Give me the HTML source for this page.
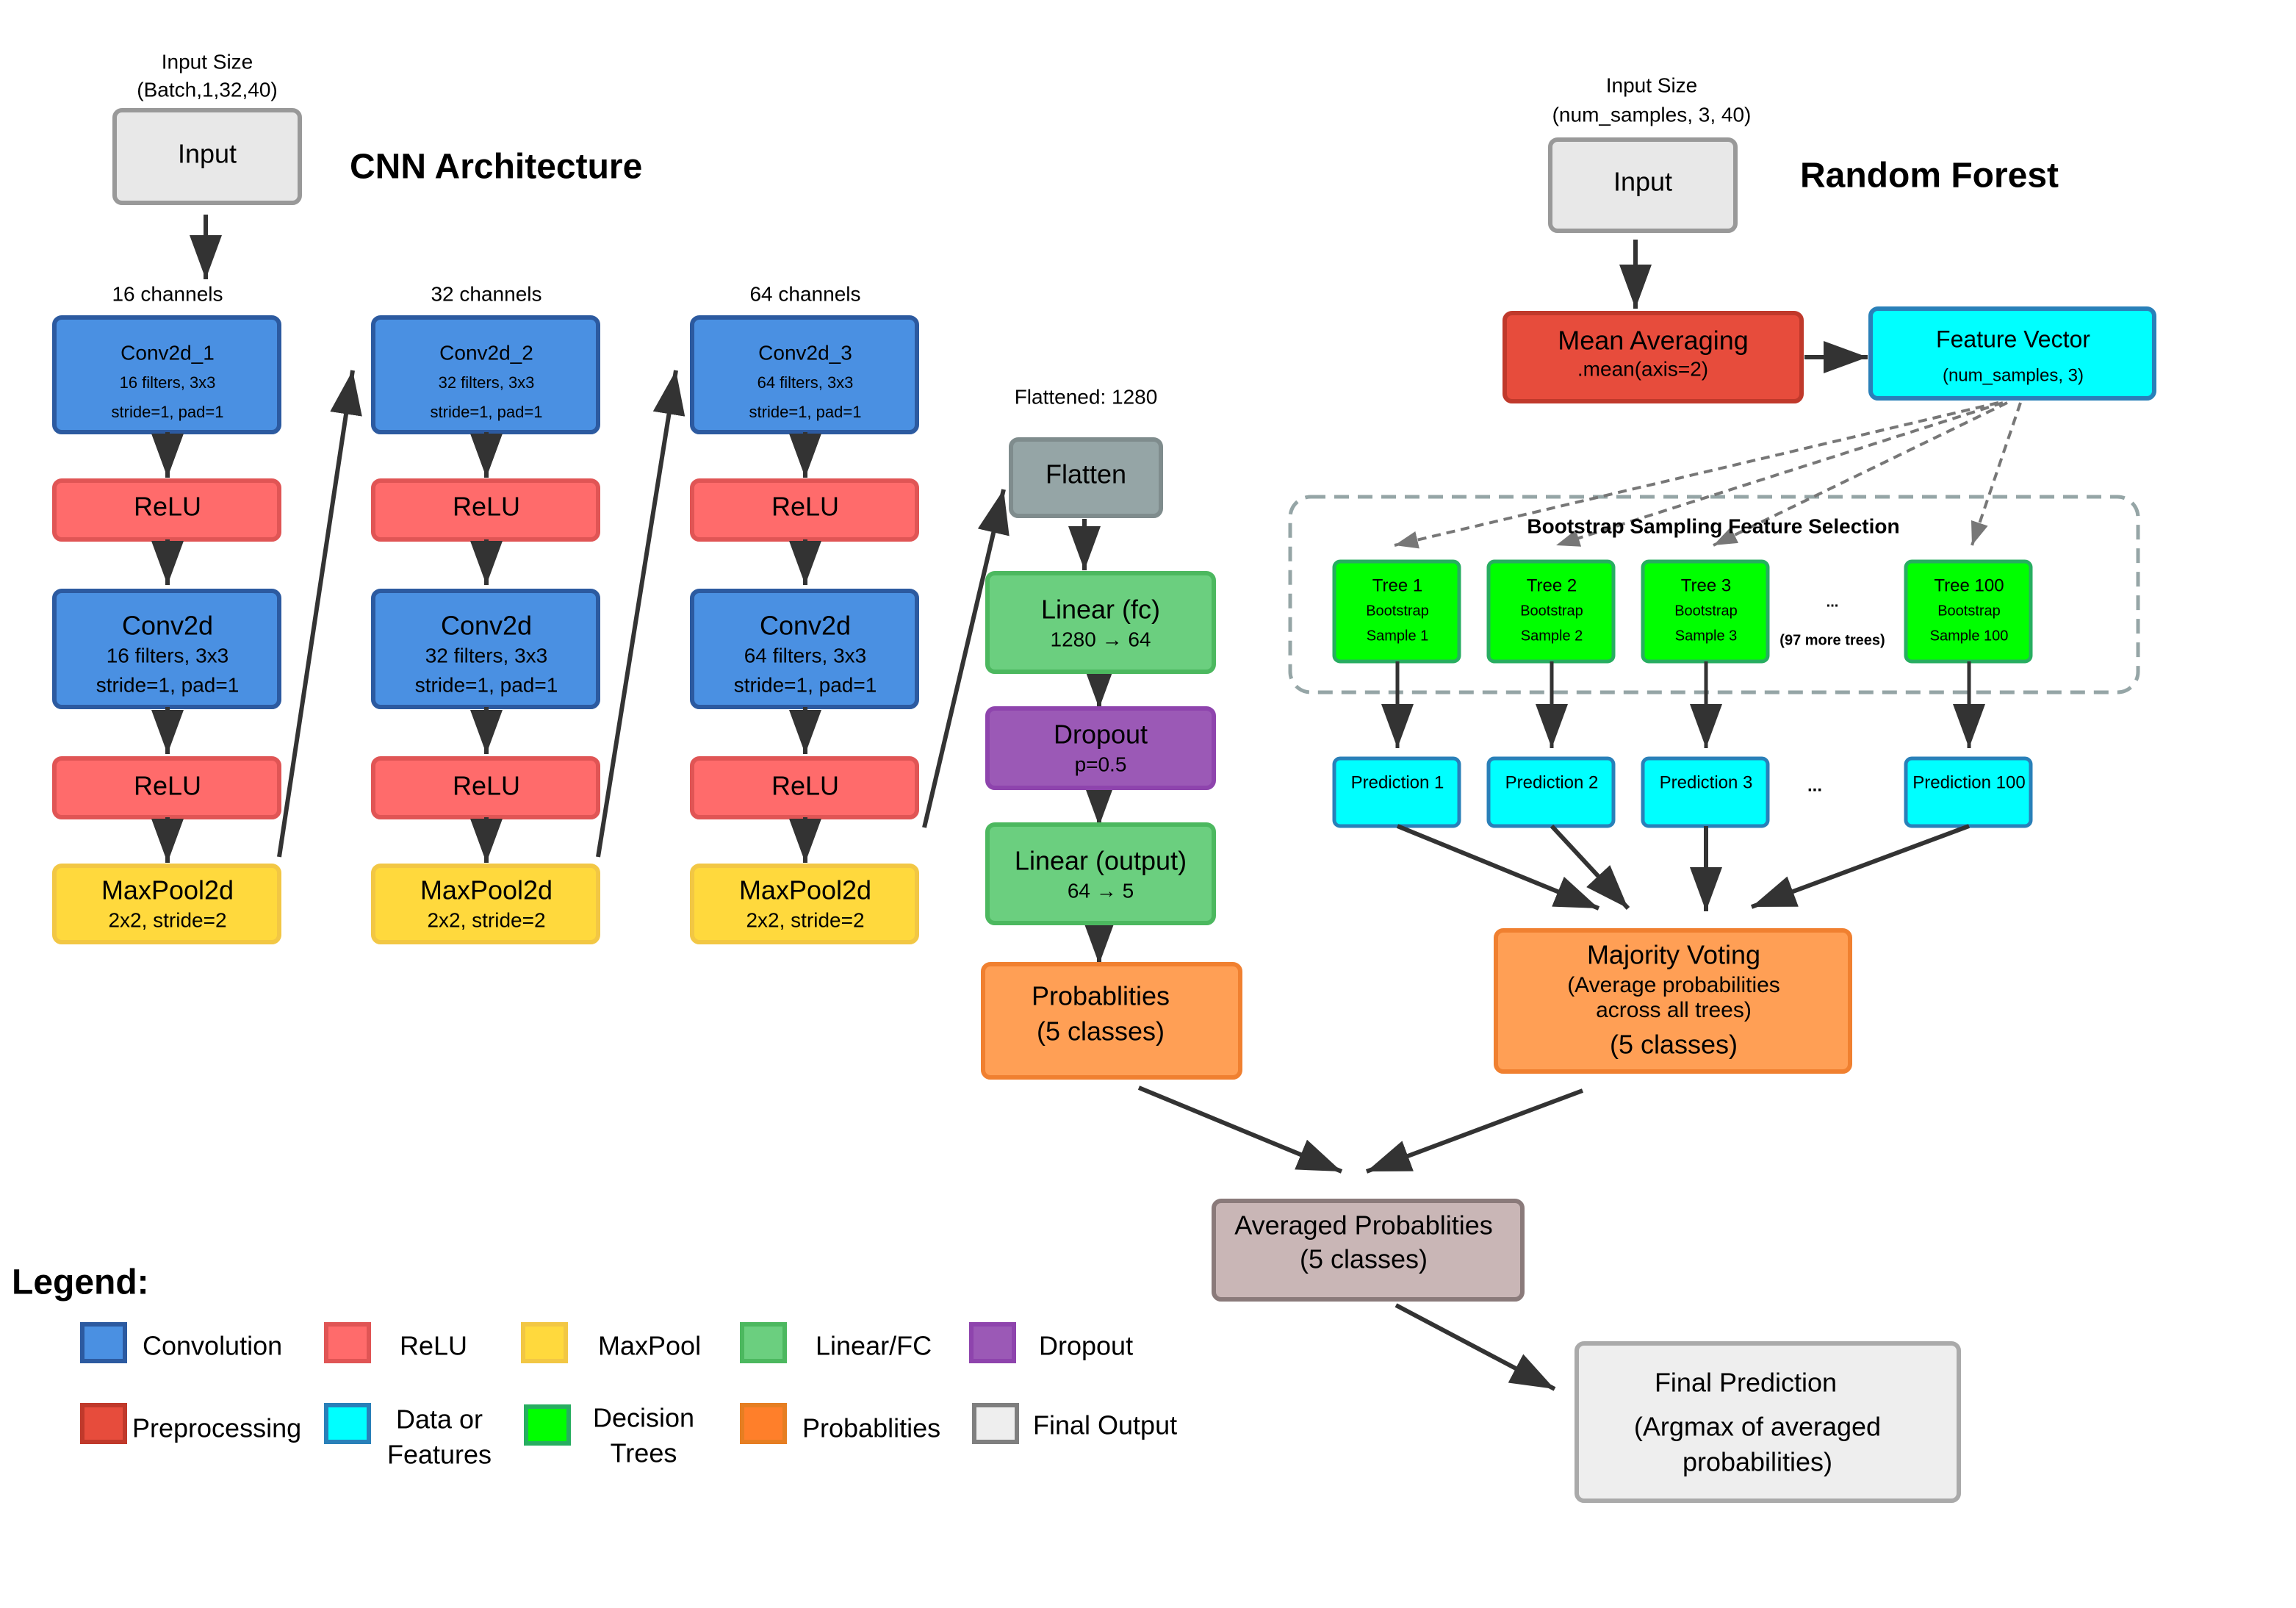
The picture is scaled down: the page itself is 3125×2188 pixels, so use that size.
<!DOCTYPE html>
<html><head><meta charset="utf-8"><style>
html,body{margin:0;padding:0;background:#fff;}
svg{display:block;}
text{font-family:"Liberation Sans",Arial,sans-serif;fill:#000;text-anchor:middle;dominant-baseline:middle;}
</style></head><body>
<svg width="3125" height="2188" viewBox="0 0 1562.5 1094" xmlns="http://www.w3.org/2000/svg">
<defs>
<marker id="a" markerUnits="userSpaceOnUse" markerWidth="32" markerHeight="24" refX="30" refY="11" orient="auto">
<path d="M0,0 L30,11 L0,22 Z" fill="#333"/></marker>
<marker id="s" markerUnits="userSpaceOnUse" markerWidth="20" markerHeight="16" refX="16" refY="6" orient="auto">
<path d="M0,0 L16,6 L0,12 Z" fill="#777"/></marker>
</defs>
<rect width="1562.5" height="1094" fill="#fff"/>

<!-- CNN -->
<text x="141" y="43" font-size="14">Input Size</text>
<text x="141" y="62" font-size="14">(Batch,1,32,40)</text>
<rect x="78" y="75" width="126" height="63" rx="5" fill="#e8e8e8" stroke="#999" stroke-width="3"/>
<text x="141" y="106" font-size="18">Input</text>
<text x="238" y="115" font-size="24" font-weight="bold" style="text-anchor:start">CNN Architecture</text>
<line x1="140" y1="146" x2="140" y2="190" stroke="#333" stroke-width="3" marker-end="url(#a)"/>

<text x="114" y="201" font-size="14">16 channels</text>
<text x="331" y="201" font-size="14">32 channels</text>
<text x="548" y="201" font-size="14">64 channels</text>

<g stroke-width="3">
<rect x="37" y="216" width="153" height="78" rx="5" fill="#4a90e2" stroke="#2c5aa0"/>
<rect x="254" y="216" width="153" height="78" rx="5" fill="#4a90e2" stroke="#2c5aa0"/>
<rect x="471" y="216" width="153" height="78" rx="5" fill="#4a90e2" stroke="#2c5aa0"/>
<rect x="37" y="327" width="153" height="40" rx="5" fill="#ff6b6b" stroke="#e05555"/>
<rect x="254" y="327" width="153" height="40" rx="5" fill="#ff6b6b" stroke="#e05555"/>
<rect x="471" y="327" width="153" height="40" rx="5" fill="#ff6b6b" stroke="#e05555"/>
<rect x="37" y="402" width="153" height="79" rx="5" fill="#4a90e2" stroke="#2c5aa0"/>
<rect x="254" y="402" width="153" height="79" rx="5" fill="#4a90e2" stroke="#2c5aa0"/>
<rect x="471" y="402" width="153" height="79" rx="5" fill="#4a90e2" stroke="#2c5aa0"/>
<rect x="37" y="516" width="153" height="40" rx="5" fill="#ff6b6b" stroke="#e05555"/>
<rect x="254" y="516" width="153" height="40" rx="5" fill="#ff6b6b" stroke="#e05555"/>
<rect x="471" y="516" width="153" height="40" rx="5" fill="#ff6b6b" stroke="#e05555"/>
<rect x="37" y="589" width="153" height="52" rx="5" fill="#ffd93d" stroke="#f2c744"/>
<rect x="254" y="589" width="153" height="52" rx="5" fill="#ffd93d" stroke="#f2c744"/>
<rect x="471" y="589" width="153" height="52" rx="5" fill="#ffd93d" stroke="#f2c744"/>
</g>
<text x="114" y="241" font-size="14">Conv2d_1</text><text x="114" y="261" font-size="11">16 filters, 3x3</text><text x="114" y="281" font-size="11">stride=1, pad=1</text>
<text x="331" y="241" font-size="14">Conv2d_2</text><text x="331" y="261" font-size="11">32 filters, 3x3</text><text x="331" y="281" font-size="11">stride=1, pad=1</text>
<text x="548" y="241" font-size="14">Conv2d_3</text><text x="548" y="261" font-size="11">64 filters, 3x3</text><text x="548" y="281" font-size="11">stride=1, pad=1</text>
<text x="114" y="346" font-size="18">ReLU</text><text x="331" y="346" font-size="18">ReLU</text><text x="548" y="346" font-size="18">ReLU</text>
<text x="114" y="427" font-size="18">Conv2d</text><text x="114" y="447" font-size="14">16 filters, 3x3</text><text x="114" y="467" font-size="14">stride=1, pad=1</text>
<text x="331" y="427" font-size="18">Conv2d</text><text x="331" y="447" font-size="14">32 filters, 3x3</text><text x="331" y="467" font-size="14">stride=1, pad=1</text>
<text x="548" y="427" font-size="18">Conv2d</text><text x="548" y="447" font-size="14">64 filters, 3x3</text><text x="548" y="467" font-size="14">stride=1, pad=1</text>
<text x="114" y="536" font-size="18">ReLU</text><text x="331" y="536" font-size="18">ReLU</text><text x="548" y="536" font-size="18">ReLU</text>
<text x="114" y="607" font-size="18">MaxPool2d</text><text x="114" y="627" font-size="14">2x2, stride=2</text>
<text x="331" y="607" font-size="18">MaxPool2d</text><text x="331" y="627" font-size="14">2x2, stride=2</text>
<text x="548" y="607" font-size="18">MaxPool2d</text><text x="548" y="627" font-size="14">2x2, stride=2</text>

<g stroke="#333" stroke-width="3" marker-end="url(#a)">
<line x1="114" y1="294" x2="114" y2="325"/><line x1="331" y1="294" x2="331" y2="325"/><line x1="548" y1="294" x2="548" y2="325"/>
<line x1="114" y1="367" x2="114" y2="398"/><line x1="331" y1="367" x2="331" y2="398"/><line x1="548" y1="367" x2="548" y2="398"/>
<line x1="114" y1="481" x2="114" y2="513"/><line x1="331" y1="481" x2="331" y2="513"/><line x1="548" y1="481" x2="548" y2="513"/>
<line x1="114" y1="556" x2="114" y2="587"/><line x1="331" y1="556" x2="331" y2="587"/><line x1="548" y1="556" x2="548" y2="587"/>
<line x1="190" y1="583" x2="240" y2="252"/>
<line x1="407" y1="583" x2="460" y2="252"/>
<line x1="629" y1="563" x2="683" y2="333"/>
<line x1="738" y1="353" x2="738" y2="388"/>
<line x1="748" y1="457" x2="748" y2="482"/>
<line x1="748" y1="536" x2="748" y2="562"/>
<line x1="748" y1="628" x2="748" y2="656"/>
<line x1="1113" y1="163" x2="1113" y2="210"/>
<line x1="1228" y1="243" x2="1271" y2="243"/>
</g>

<text x="739" y="271" font-size="14">Flattened: 1280</text>
<rect x="688" y="299" width="102" height="52" rx="5" fill="#95a5a6" stroke="#7f8c8d" stroke-width="3"/>
<text x="739" y="324" font-size="18">Flatten</text>
<rect x="672" y="390" width="154" height="67" rx="5" fill="#6bcf7f" stroke="#4cb85f" stroke-width="3"/>
<text x="749" y="416" font-size="18">Linear (fc)</text><text x="749" y="436" font-size="14">1280 → 64</text>
<rect x="672" y="482" width="154" height="54" rx="5" fill="#9b59b6" stroke="#8e44ad" stroke-width="3"/>
<text x="749" y="501" font-size="18">Dropout</text><text x="749" y="521" font-size="14">p=0.5</text>
<rect x="672" y="561" width="154" height="67" rx="5" fill="#6bcf7f" stroke="#4cb85f" stroke-width="3"/>
<text x="749" y="587" font-size="18">Linear (output)</text><text x="749" y="607" font-size="14">64 → 5</text>
<rect x="669" y="656" width="175" height="77" rx="5" fill="#ff9f55" stroke="#f08030" stroke-width="3"/>
<text x="749" y="679" font-size="18">Probablities</text><text x="749" y="703" font-size="18">(5 classes)</text>

<!-- Random forest -->
<text x="1124" y="59" font-size="14">Input Size</text>
<text x="1124" y="79" font-size="14">(num_samples, 3, 40)</text>
<rect x="1055" y="95" width="126" height="62" rx="5" fill="#e8e8e8" stroke="#999" stroke-width="3"/>
<text x="1118" y="125" font-size="18">Input</text>
<text x="1225" y="121" font-size="24" font-weight="bold" style="text-anchor:start">Random Forest</text>
<rect x="1024" y="213" width="202" height="60" rx="5" fill="#e74c3c" stroke="#c0392b" stroke-width="3"/>
<text x="1125" y="233" font-size="18">Mean Averaging</text><text x="1118" y="252" font-size="14">.mean(axis=2)</text>
<rect x="1273" y="210" width="193" height="61" rx="5" fill="#00ffff" stroke="#2980b9" stroke-width="3"/>
<text x="1370" y="232" font-size="16">Feature Vector</text><text x="1370" y="256" font-size="12">(num_samples, 3)</text>

<rect x="878" y="338" width="577" height="133" rx="14" fill="none" stroke="#95a5a6" stroke-width="2.5" stroke-dasharray="10,6"/>
<g stroke="#777" stroke-width="2" stroke-dasharray="6,4" fill="none" marker-end="url(#s)">
<line x1="1360" y1="274" x2="949" y2="371"/>
<line x1="1363" y1="274" x2="1059" y2="371"/>
<line x1="1366" y1="274" x2="1166" y2="371"/>
<line x1="1375" y1="274" x2="1342" y2="371"/>
</g>
<text x="1166" y="359" font-size="14" font-weight="bold">Bootstrap Sampling Feature Selection</text>

<g stroke-width="2.5" fill="#00ff00" stroke="#27ae60">
<rect x="908" y="382" width="85" height="68" rx="4"/>
<rect x="1013" y="382" width="85" height="68" rx="4"/>
<rect x="1118" y="382" width="85" height="68" rx="4"/>
<rect x="1297" y="382" width="85" height="68" rx="4"/>
</g>
<text x="951" y="399" font-size="12">Tree 1</text><text x="951" y="416" font-size="10">Bootstrap</text><text x="951" y="433" font-size="10">Sample 1</text>
<text x="1056" y="399" font-size="12">Tree 2</text><text x="1056" y="416" font-size="10">Bootstrap</text><text x="1056" y="433" font-size="10">Sample 2</text>
<text x="1161" y="399" font-size="12">Tree 3</text><text x="1161" y="416" font-size="10">Bootstrap</text><text x="1161" y="433" font-size="10">Sample 3</text>
<text x="1340" y="399" font-size="12">Tree 100</text><text x="1340" y="416" font-size="10">Bootstrap</text><text x="1340" y="433" font-size="10">Sample 100</text>
<text x="1247" y="410" font-size="10" font-weight="bold">...</text>
<text x="1247" y="436" font-size="10" font-weight="bold">(97 more trees)</text>

<g stroke="#333" stroke-width="2.5" marker-end="url(#a)">
<line x1="951" y1="450" x2="951" y2="509"/>
<line x1="1056" y1="450" x2="1056" y2="509"/>
<line x1="1161" y1="450" x2="1161" y2="509"/>
<line x1="1340" y1="450" x2="1340" y2="509"/>
</g>
<g stroke-width="2.5" fill="#00ffff" stroke="#2980b9">
<rect x="908" y="516" width="85" height="46" rx="4"/>
<rect x="1013" y="516" width="85" height="46" rx="4"/>
<rect x="1118" y="516" width="85" height="46" rx="4"/>
<rect x="1297" y="516" width="85" height="46" rx="4"/>
</g>
<text x="951" y="533" font-size="12">Prediction 1</text>
<text x="1056" y="533" font-size="12">Prediction 2</text>
<text x="1161" y="533" font-size="12">Prediction 3</text>
<text x="1340" y="533" font-size="12">Prediction 100</text>
<text x="1235" y="535" font-size="12" font-weight="bold">...</text>

<g stroke="#333" stroke-width="3" marker-end="url(#a)">
<line x1="951" y1="562" x2="1088" y2="618"/>
<line x1="1056" y1="562" x2="1108" y2="618"/>
<line x1="1161" y1="562" x2="1161" y2="620"/>
<line x1="1340" y1="562" x2="1192" y2="617"/>
<line x1="775" y1="740" x2="913" y2="797"/>
<line x1="1077" y1="742" x2="930" y2="797"/>
<line x1="950" y1="888" x2="1058" y2="945"/>
</g>

<rect x="1018" y="633" width="241" height="96" rx="5" fill="#ff9f55" stroke="#f08030" stroke-width="3"/>
<text x="1139" y="651" font-size="18">Majority Voting</text>
<text x="1139" y="671" font-size="15">(Average probabilities</text>
<text x="1139" y="688" font-size="15">across all trees)</text>
<text x="1139" y="712" font-size="18">(5 classes)</text>

<rect x="826" y="817" width="210" height="67" rx="5" fill="#c9b6b6" stroke="#8a7a7a" stroke-width="3"/>
<text x="928" y="835" font-size="18">Averaged Probablities</text>
<text x="928" y="858" font-size="18">(5 classes)</text>

<rect x="1073" y="914" width="260" height="107" rx="5" fill="#eeeeee" stroke="#aaa" stroke-width="3"/>
<text x="1188" y="942" font-size="18">Final Prediction</text>
<text x="1196" y="972" font-size="18">(Argmax of averaged</text>
<text x="1196" y="996" font-size="18">probabilities)</text>

<!-- Legend -->
<text x="8" y="874" font-size="24" font-weight="bold" style="text-anchor:start">Legend:</text>
<g stroke-width="3">
<rect x="56" y="901" width="29" height="25" fill="#4a90e2" stroke="#2c5aa0"/>
<rect x="222" y="901" width="29" height="25" fill="#ff6b6b" stroke="#e05555"/>
<rect x="356" y="901" width="29" height="25" fill="#ffd93d" stroke="#f2c744"/>
<rect x="505" y="901" width="29" height="25" fill="#6bcf7f" stroke="#4cb85f"/>
<rect x="661" y="901" width="29" height="25" fill="#9b59b6" stroke="#8e44ad"/>
<rect x="56" y="956" width="29" height="25" fill="#e74c3c" stroke="#c0392b"/>
<rect x="222" y="956" width="29" height="25" fill="#00ffff" stroke="#2980b9"/>
<rect x="358" y="957" width="29" height="25" fill="#00ff00" stroke="#27ae60"/>
<rect x="505" y="956" width="29" height="25" fill="#ff7f2a" stroke="#e67e22"/>
<rect x="663" y="956" width="29" height="25" fill="#eeeeee" stroke="#7f7f7f"/>
</g>
<g font-size="18">
<text x="97" y="917" style="text-anchor:start">Convolution</text>
<text x="272" y="917" style="text-anchor:start">ReLU</text>
<text x="407" y="917" style="text-anchor:start">MaxPool</text>
<text x="555" y="917" style="text-anchor:start">Linear/FC</text>
<text x="707" y="917" style="text-anchor:start">Dropout</text>
<text x="90" y="973" style="text-anchor:start">Preprocessing</text>
<text x="546" y="973" style="text-anchor:start">Probablities</text>
<text x="703" y="971" style="text-anchor:start">Final Output</text>
</g>
<text x="299" y="967" font-size="18">Data or</text>
<text x="299" y="991" font-size="18">Features</text>
<text x="438" y="966" font-size="18">Decision</text>
<text x="438" y="990" font-size="18">Trees</text>
</svg>
</body></html>
